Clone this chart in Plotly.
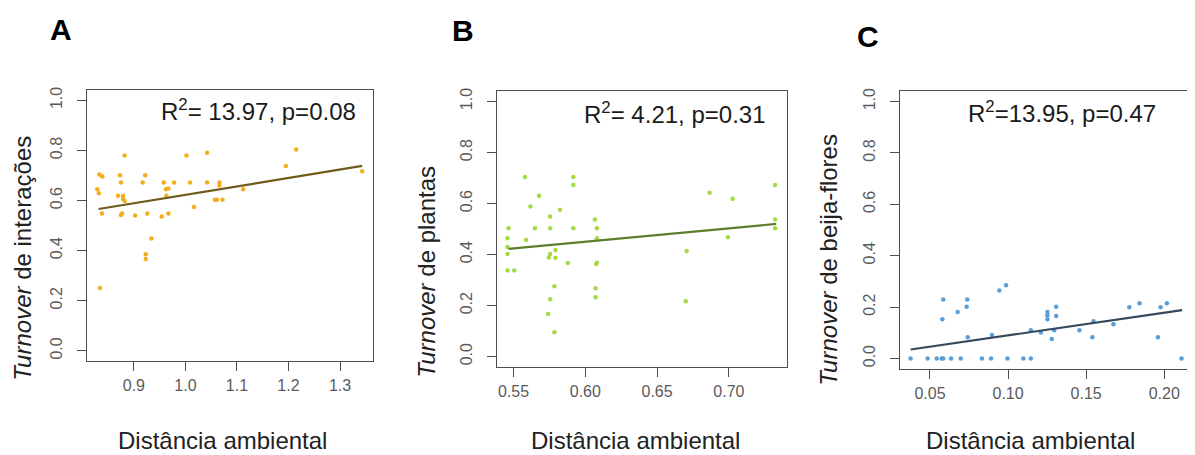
import plotly.graph_objects as go

# ---------------- data ----------------
# Panel A: Turnover de interações
a_x = [0.829, 0.832, 0.833, 0.839, 0.838, 0.834, 0.869, 0.873, 0.875, 0.882,
       0.879, 0.879, 0.882, 0.875, 0.877, 0.9025, 0.917, 0.922, 0.926, 0.923,
       0.923, 0.934, 0.954, 0.958, 0.962, 0.967, 0.967, 0.963, 0.978, 1.002,
       1.009, 1.0165, 1.042, 1.042, 1.057, 1.061, 1.066, 1.066, 1.072, 1.112,
       1.195, 1.215, 1.343]
a_y = [0.645, 0.629, 0.704, 0.696, 0.548, 0.251, 0.619, 0.701, 0.672, 0.780,
       0.619, 0.606, 0.598, 0.542, 0.548, 0.540, 0.672, 0.701, 0.548, 0.386,
       0.367, 0.448, 0.536, 0.672, 0.645, 0.648, 0.548, 0.619, 0.672, 0.780,
       0.672, 0.574, 0.791, 0.672, 0.603, 0.603, 0.672, 0.660, 0.603, 0.645,
       0.738, 0.804, 0.717]
a_fit_x = [0.8315, 1.343]
a_fit_y = [0.566, 0.738]

# Panel B: Turnover de plantas
b_x = [0.5465, 0.5458, 0.5458, 0.5458, 0.5458, 0.5505, 0.558, 0.5588, 0.5618, 0.5649,
       0.5678, 0.5755, 0.5755, 0.5755, 0.5746, 0.5792, 0.5792, 0.5785, 0.5755, 0.5741,
       0.5785, 0.5824, 0.5878, 0.5917, 0.5917, 0.5917, 0.6067, 0.6081, 0.6081, 0.6076,
       0.6081, 0.6072, 0.6072, 0.6706, 0.670, 0.6866, 0.7026, 0.6993, 0.7322, 0.7322,
       0.7322]
b_y = [0.503, 0.464, 0.430, 0.402, 0.337, 0.337, 0.704, 0.457, 0.588, 0.503,
       0.630, 0.549, 0.503, 0.402, 0.388, 0.418, 0.387, 0.276, 0.225, 0.167,
       0.095, 0.576, 0.367, 0.704, 0.673, 0.503, 0.537, 0.503, 0.464, 0.363,
       0.368, 0.268, 0.233, 0.414, 0.217, 0.642, 0.619, 0.468, 0.673, 0.537,
       0.503]
b_fit_x = [0.5465, 0.733]
b_fit_y = [0.422, 0.520]

# Panel C: Turnover de beija-flores
c_x = [0.0376, 0.0485, 0.0543, 0.0575, 0.0585, 0.0635, 0.0697, 0.0833, 0.0891, 0.0996,
       0.1098, 0.1146, 0.2111, 0.0585, 0.0579, 0.0677, 0.0739, 0.0735, 0.0742, 0.0897,
       0.0944, 0.0987, 0.1146, 0.1210, 0.1252, 0.1252, 0.1252, 0.1308, 0.1308, 0.1295,
       0.1280, 0.1457, 0.1540, 0.1675, 0.1776, 0.1842, 0.1960, 0.1977, 0.2017, 0.1547]
c_y = [0.0, 0.0, 0.0, 0.0, 0.0, 0.0, 0.0, 0.0, 0.0, 0.0,
       0.0, 0.0, 0.0, 0.230, 0.153, 0.181, 0.230, 0.201, 0.083, 0.091,
       0.265, 0.285, 0.110, 0.101, 0.181, 0.168, 0.153, 0.201, 0.165, 0.110,
       0.076, 0.110, 0.083, 0.133, 0.199, 0.215, 0.083, 0.199, 0.215, 0.145]
c_fit_x = [0.0376, 0.2115]
c_fit_y = [0.035, 0.188]

y_ticks = [0.0, 0.2, 0.4, 0.6, 0.8, 1.0]
y_labels = ["0.0", "0.2", "0.4", "0.6", "0.8", "1.0"]
a_xticks = [0.9, 1.0, 1.1, 1.2, 1.3]
a_xlabels = ["0.9", "1.0", "1.1", "1.2", "1.3"]
b_xticks = [0.55, 0.60, 0.65, 0.70]
b_xlabels = ["0.55", "0.60", "0.65", "0.70"]
c_xticks = [0.05, 0.10, 0.15, 0.20]
c_xlabels = ["0.05", "0.10", "0.15", "0.20"]

stats = ["R<sup>2</sup>= 13.97, p=0.08", "R<sup>2</sup>= 4.21, p=0.31", "R<sup>2</sup>=13.95, p=0.47"]
y_titles = ["<i>Turnover</i> de interações", "<i>Turnover</i> de plantas", "<i>Turnover</i> de beija-flores"]
x_title = "Distância ambiental"
letters = ["A", "B", "C"]

# ---------------- layout geometry (window pixels) ----------------
WIN_W, WIN_H = 1195, 455
OFF = 8  # default page body margin
W, H = WIN_W - OFF, WIN_H - OFF
boxes = [(87, 373, 87, 360), (497, 787, 88, 366), (900, 1192, 88, 368)]  # left, right, top, bottom

def fx(px):
    return (px - OFF) / W

def fy(py):
    return 1 - (py - OFF) / H

FONT = "Liberation Sans, Arial, sans-serif"
pt_colors = ["#f2ae1e", "#a6da44", "#5a9ed8"]
line_colors = ["#6e5a1a", "#5c7e2c", "#34495e"]
xs = [a_x, b_x, c_x]
ys = [a_y, b_y, c_y]
fxs = [a_fit_x, b_fit_x, c_fit_x]
fys = [a_fit_y, b_fit_y, c_fit_y]
xranges = [[0.809, 1.364], [0.5385, 0.7405], [0.0308, 0.2178]]
xtick_sets = [(a_xticks, a_xlabels), (b_xticks, b_xlabels), (c_xticks, c_xlabels)]

fig = go.Figure()
layout = dict(
    width=W, height=H, margin=dict(l=0, r=0, t=0, b=0),
    paper_bgcolor="white", plot_bgcolor="white", showlegend=False,
    font=dict(family=FONT, color="#222222"),
)

axis_common = dict(
    showgrid=False, zeroline=False, showline=True, mirror=True,
    linecolor="#4d4d4d", linewidth=1.2, ticks="outside", ticklen=9,
    tickcolor="#4d4d4d", tickwidth=1.2,
    tickfont=dict(size=16, color="#5a5a5a", family=FONT),
)

annotations = []
for i in range(3):
    n = "" if i == 0 else str(i + 1)
    l, r, t, b = boxes[i]
    fig.add_trace(go.Scatter(
        x=xs[i], y=ys[i], mode="markers",
        marker=dict(size=4.5, color=pt_colors[i]),
        xaxis="x" + n, yaxis="y" + n, hoverinfo="x+y"))
    fig.add_trace(go.Scatter(
        x=fxs[i], y=fys[i], mode="lines",
        line=dict(color=line_colors[i], width=2.2),
        xaxis="x" + n, yaxis="y" + n, hoverinfo="skip"))
    tv, tt = xtick_sets[i]
    layout["xaxis" + n] = dict(axis_common, domain=[fx(l), fx(r)], range=xranges[i],
                               tickvals=tv, ticktext=tt, anchor="y" + n,
                               ticklabelstandoff=1)
    layout["yaxis" + n] = dict(axis_common, domain=[fy(b), fy(t)], range=[-0.04, 1.04],
                               tickvals=y_ticks, ticktext=y_labels, tickangle=-90,
                               anchor="x" + n, ticklabelstandoff=9)

# stats annotations (right-aligned near top right of each box)
stat_pos = [(358, 107), (768, 110), (1158, 109)]
for i, (px, py) in enumerate(stat_pos):
    annotations.append(dict(text=stats[i], x=fx(px), y=fy(py), xref="paper", yref="paper",
                            xanchor="right", yanchor="middle", showarrow=False,
                            font=dict(size=24, color="#1a1a1a", family=FONT)))
# panel letters
letter_pos = [(61, 26), (463, 27), (868, 33)]
for i, (px, py) in enumerate(letter_pos):
    annotations.append(dict(text="<b>" + letters[i] + "</b>", x=fx(px), y=fy(py),
                            xref="paper", yref="paper", xanchor="center", yanchor="middle",
                            showarrow=False,
                            font=dict(size=30, color="#000000", family=FONT)))
# x titles
xt_pos = [(222, 440), (635, 440), (1030, 440)]
for px, py in xt_pos:
    annotations.append(dict(text=x_title, x=fx(px), y=fy(py), xref="paper", yref="paper",
                            xanchor="center", yanchor="middle", showarrow=False,
                            font=dict(size=24, color="#222222", family=FONT)))
# y titles
yt_pos = [(23, 257), (427, 270), (829, 258)]
for i, (px, py) in enumerate(yt_pos):
    annotations.append(dict(text=y_titles[i], x=fx(px), y=fy(py), xref="paper", yref="paper",
                            xanchor="center", yanchor="middle", textangle=-90,
                            showarrow=False,
                            font=dict(size=24, color="#222222", family=FONT)))

layout["annotations"] = annotations
fig.update_layout(**layout)
fig.write_html("out.html")
